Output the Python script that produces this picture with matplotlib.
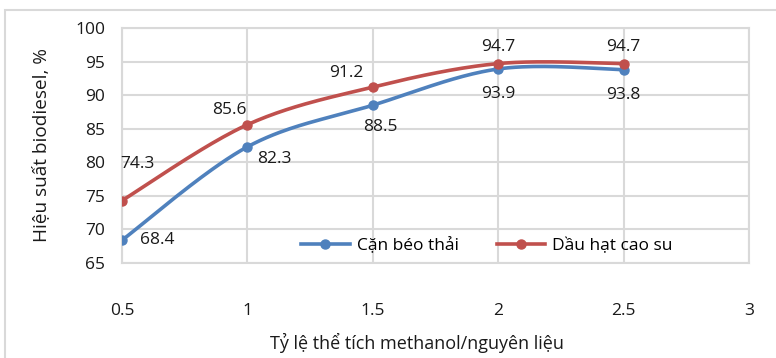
import numpy as np
import matplotlib.pyplot as plt
from matplotlib.patches import Rectangle

plt.rcParams['font.family'] = ['Open Sans', 'DejaVu Sans']

ratio = [0.5, 1.0, 1.5, 2.0, 2.5]
can_beo = [68.4, 82.3, 88.5, 93.9, 93.8]
dau_hat = [74.3, 85.6, 91.2, 94.7, 94.7]
x_ticks = [0.5, 1, 1.5, 2, 2.5, 3]
y_ticks = [65, 70, 75, 80, 85, 90, 95, 100]

# label offsets in pixels (dx, dy)
blue_offsets = [(35, 0), (27, -12), (8, -22), (0, -25), (0, -25)]
red_offsets = [(15, 37), (-18, 15), (-26, 14), (0, 17), (0, 17)]

BLUE = '#4F81BD'
RED = '#C0504D'
GRID = '#D9D9D9'
TEXT = '#1a1a1a'


def smooth(xs, ys, sx=250.0, sy=6.71, n=40):
    # Catmull-Rom style bezier smoothing, computed in screen-like units
    p = np.column_stack([np.asarray(xs) * sx, np.asarray(ys) * sy])
    pts = np.vstack([p[0], p, p[-1]])
    out = []
    t = np.linspace(0, 1, n)[:, None]
    for i in range(1, len(pts) - 2):
        p0, p1, p2, p3 = pts[i - 1], pts[i], pts[i + 1], pts[i + 2]
        c1 = p1 + (p2 - p0) / 6
        c2 = p2 - (p3 - p1) / 6
        seg = ((1 - t) ** 3) * p1 + 3 * ((1 - t) ** 2) * t * c1 + 3 * (1 - t) * t ** 2 * c2 + t ** 3 * p2
        out.append(seg if i == 1 else seg[1:])
    out = np.vstack(out)
    return out[:, 0] / sx, out[:, 1] / sy


fig = plt.figure(figsize=(7.76, 3.58), dpi=100)
fig.patches.append(Rectangle((5 / 776, -0.1), 1.1, (358 - 10) / 358 + 0.1,
                             transform=fig.transFigure, fill=False,
                             edgecolor=GRID, linewidth=1.5))
ax = fig.add_axes([122 / 776, 95 / 358, 627 / 776, 235 / 358])

for ys, color, name, offs in [(can_beo, BLUE, 'Cặn béo thải', blue_offsets),
                              (dau_hat, RED, 'Dầu hạt cao su', red_offsets)]:
    sx_, sy_ = smooth(ratio, ys)
    ax.plot(sx_, sy_, color=color, linewidth=2.6, solid_capstyle='round', zorder=3)
    ax.plot(ratio, ys, 'o', color=color, markersize=6.5, zorder=4)
    ax.plot([], [], color=color, linewidth=2.6, marker='o', markersize=6.5, label=name)
    for xv, yv, (dx, dy) in zip(ratio, ys, offs):
        ax.annotate(f'{yv:.1f}', (xv, yv), xytext=(dx, dy), textcoords='offset pixels',
                    ha='center', va='center', fontsize=12.5, color=TEXT, zorder=5)

ax.set_xlim(0.5, 3)
ax.set_ylim(65, 100)
ax.set_xticks(x_ticks)
ax.set_xticklabels(['0.5', '1', '1.5', '2', '2.5', '3'])
ax.set_yticks(y_ticks)
ax.grid(True, color=GRID, linewidth=1.5)
ax.set_axisbelow(True)
for s in ax.spines.values():
    s.set_color(GRID)
    s.set_linewidth(1.5)
ax.tick_params(length=0, labelsize=12.5, labelcolor=TEXT)
ax.tick_params(axis='x', pad=29)
ax.tick_params(axis='y', pad=12)

ax.set_xlabel('Tỷ lệ thể tích methanol/nguyên liệu', fontsize=13, color=TEXT)
ax.xaxis.set_label_coords((417 - 122) / 627, -(333 - 263) / 235)
ax.set_ylabel('Hiệu suất biodiesel, %', fontsize=13.7, color=TEXT)
ax.yaxis.set_label_coords(-(122 - 50) / 627, 0.5)

ax.legend(loc='center', bbox_to_anchor=((487 - 122) / 627, (263 - 246) / 235), ncol=2,
          frameon=False, fontsize=12.5, handlelength=2.8, columnspacing=2.2,
          handletextpad=0.4)

fig.savefig('out.png', dpi=100)
